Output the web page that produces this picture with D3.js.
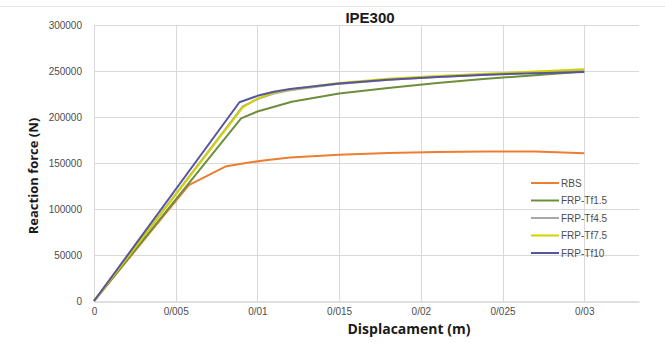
<!DOCTYPE html>
<html>
<head>
<meta charset="utf-8">
<script src="https://cdn.jsdelivr.net/npm/d3@7"></script>
<style>
  html, body { margin: 0; padding: 0; background: #ffffff; }
  svg { display: block; }
</style>
</head>
<body>
<script>
// Load–displacement curves for the IPE300 connection variants
const seriesNames = ["RBS", "FRP-Tf1.5", "FRP-Tf4.5", "FRP-Tf7.5", "FRP-Tf10"];
const seriesColors = ["#ED7D31", "#6E8E3E", "#A8A8A8", "#D2D200", "#56569C"];

const dispRBS   = [0, 0.0058, 0.0081, 0.0093, 0.0105, 0.012, 0.015, 0.018, 0.021, 0.024, 0.027, 0.030];
const forceRBS  = [0, 126000, 146500, 150000, 153000, 156000, 159000, 161000, 162000, 162500, 162500, 160500];

const dispTf15  = [0, 0.0090, 0.0100, 0.0121, 0.015, 0.018, 0.021, 0.024, 0.027, 0.030];
const forceTf15 = [0, 198500, 206000, 216500, 225500, 231500, 237000, 241500, 245500, 249500];

const dispTf45  = [0, 0.0091, 0.0100, 0.0110, 0.012, 0.015, 0.018, 0.021, 0.024, 0.027, 0.030];
const forceTf45 = [0, 211500, 219500, 225500, 229000, 236000, 240500, 243500, 246000, 248500, 251000];

const dispTf75  = [0, 0.0091, 0.0100, 0.0110, 0.012, 0.015, 0.018, 0.021, 0.024, 0.027, 0.030];
const forceTf75 = [0, 210500, 220000, 226500, 230000, 237000, 241500, 244500, 247000, 249500, 252000];

const dispTf10  = [0, 0.0089, 0.0100, 0.0110, 0.012, 0.015, 0.018, 0.021, 0.024, 0.027, 0.030];
const forceTf10 = [0, 216000, 223000, 227500, 230500, 236500, 240500, 243500, 246000, 247500, 249000];

const xTicks = [0, 0.005, 0.01, 0.015, 0.02, 0.025, 0.03];
const xTickLabels = ["0", "0/005", "0/01", "0/015", "0/02", "0/025", "0/03"];
const yTicks = [0, 50000, 100000, 150000, 200000, 250000, 300000];

const chartTitle = "IPE300";
const xTitle = "Displacament (m)";
const yTitle = "Reaction force (N)";

const seriesX = [dispRBS, dispTf15, dispTf45, dispTf75, dispTf10];
const seriesY = [forceRBS, forceTf15, forceTf45, forceTf75, forceTf10];

const W = 665, H = 343;
const plot = { left: 94, right: 639, top: 25, bottom: 301 };

const svg = d3.select("body").append("svg")
  .attr("width", W).attr("height", H);

const x = d3.scaleLinear().domain([0, 0.03335]).range([plot.left, plot.right]);
const y = d3.scaleLinear().domain([0, 300000]).range([plot.bottom, plot.top]);

// chart area outline along the top
svg.append("line")
  .attr("x1", 0).attr("x2", W).attr("y1", 6.5).attr("y2", 6.5)
  .attr("stroke", "#e6e6e6").attr("stroke-width", 1);

// gridlines
const grid = svg.append("g");
grid.selectAll("line.h").data(yTicks.filter(d => d > 0)).join("line")
  .attr("class", "h")
  .attr("x1", plot.left).attr("x2", plot.right)
  .attr("y1", d => Math.round(y(d)) + 0.5).attr("y2", d => Math.round(y(d)) + 0.5)
  .attr("stroke", "#d9d9d9").attr("stroke-width", 1);
grid.selectAll("line.v").data(xTicks).join("line")
  .attr("class", "v")
  .attr("y1", plot.top).attr("y2", plot.bottom)
  .attr("x1", d => Math.round(x(d)) + 0.5).attr("x2", d => Math.round(x(d)) + 0.5)
  .attr("stroke", "#d9d9d9").attr("stroke-width", 1);

// x axis
const xAxis = d3.axisBottom(x).tickValues(xTicks)
  .tickFormat((d, i) => xTickLabels[i]).tickSize(0).tickPadding(6);
const gx = svg.append("g")
  .attr("transform", `translate(0,${plot.bottom + 0.5})`)
  .call(xAxis);
gx.select(".domain").attr("stroke", "#bfbfbf");
gx.selectAll("text")
  .attr("font-family", "Liberation Sans, Arial, sans-serif")
  .attr("font-size", 10).attr("fill", "#4d4d4d");

// y axis
const yAxis = d3.axisLeft(y).tickValues(yTicks).tickFormat(d3.format("d"))
  .tickSize(0).tickPadding(12);
const gy = svg.append("g")
  .attr("transform", `translate(${plot.left},0)`)
  .call(yAxis);
gy.select(".domain").remove();
gy.selectAll("text")
  .attr("font-family", "Liberation Sans, Arial, sans-serif")
  .attr("font-size", 10).attr("fill", "#4d4d4d");

// curves
const line = d3.line().x(d => x(d[0])).y(d => y(d[1]));
const order = [0, 1, 2, 3, 4];
svg.append("g").selectAll("path").data(order).join("path")
  .attr("d", i => line(seriesX[i].map((v, k) => [v, seriesY[i][k]])))
  .attr("fill", "none")
  .attr("stroke", i => seriesColors[i])
  .attr("stroke-width", 2)
  .attr("stroke-linejoin", "round");

// legend
const legend = svg.append("g").attr("transform", "translate(531,183)");
seriesNames.forEach((name, i) => {
  const g = legend.append("g").attr("transform", `translate(0,${i * 17.5})`);
  g.append("line").attr("x1", 0).attr("x2", 28).attr("y1", 0).attr("y2", 0)
    .attr("stroke", seriesColors[i]).attr("stroke-width", 2);
  g.append("text").attr("x", 30).attr("y", 0).attr("dy", "0.35em")
    .attr("font-family", "Liberation Sans, Arial, sans-serif")
    .attr("font-size", 10).attr("fill", "#4d4d4d")
    .text(name);
});

// titles
svg.append("text")
  .attr("x", 370).attr("y", 23).attr("text-anchor", "middle")
  .attr("font-family", "Liberation Sans, Arial, sans-serif")
  .attr("font-weight", "bold").attr("font-size", 15).attr("fill", "#1a1a1a")
  .text(chartTitle);

svg.append("text")
  .attr("x", 409).attr("y", 334).attr("text-anchor", "middle")
  .attr("font-family", "Open Sans, Liberation Sans, sans-serif")
  .attr("font-weight", "bold").attr("font-size", 14).attr("fill", "#1a1a1a")
  .text(xTitle);

svg.append("text")
  .attr("transform", "translate(38,176) rotate(-90)")
  .attr("text-anchor", "middle")
  .attr("font-family", "Open Sans, Liberation Sans, sans-serif")
  .attr("font-weight", "bold").attr("font-size", 13).attr("fill", "#1a1a1a")
  .text(yTitle);
</script>
</body>
</html>
